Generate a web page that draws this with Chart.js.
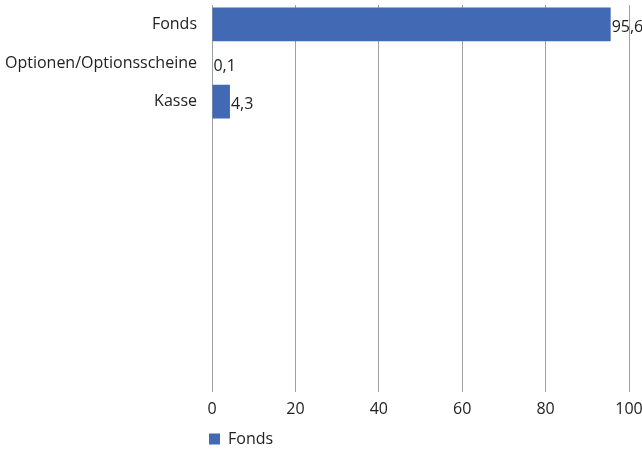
<!DOCTYPE html>
<html>
<head>
<meta charset="utf-8">
<script src="https://cdn.jsdelivr.net/npm/chart.js@4/dist/chart.umd.min.js"></script>
<style>
  html, body { margin: 0; padding: 0; background: #fff; }
  #wrap { width: 642px; height: 457px; position: relative; }
</style>
</head>
<body>
<div id="wrap"><canvas id="chart"></canvas></div>
<script>
// categories (the chart keeps 10 slots, only the first three are filled)
const categories = ["Fonds", "Optionen/Optionsscheine", "Kasse", "", "", "", "", "", "", ""];
const fondsValues = [95.6, 0.1, 4.3, null, null, null, null, null, null, null];
const xTicks = [0, 20, 40, 60, 80, 100];
const seriesName = "Fonds";

const FONT = "'Open Sans', sans-serif";
const TEXT = "#222222";

// draws the value next to the end of each bar, German decimal comma
const valueLabels = {
  id: "valueLabels",
  afterDatasetsDraw(chart) {
    const ctx = chart.ctx;
    const meta = chart.getDatasetMeta(0);
    ctx.save();
    ctx.font = "16px " + FONT;
    ctx.fillStyle = TEXT;
    ctx.textAlign = "left";
    ctx.textBaseline = "middle";
    meta.data.forEach((bar, i) => {
      const v = fondsValues[i];
      if (v === null) return;
      ctx.fillText(v.toFixed(1).replace(".", ","), bar.x + 1, bar.y + 3);
    });
    ctx.restore();
  },
};

// move the legend so it starts under the plot area instead of the canvas edge
const legendShift = {
  id: "legendShift",
  beforeDraw(chart) {
    const lg = chart.legend;
    if (!lg) return;
    const w = lg.right - lg.left;
    lg.left = chart.chartArea.left - 7;
    lg.right = lg.left + w;
  },
};

new Chart(document.getElementById("chart").getContext("2d"), {
  type: "bar",
  data: {
    labels: categories,
    datasets: [
      {
        label: seriesName,
        data: fondsValues,
        backgroundColor: "#4169b4",
        barPercentage: 0.87,
        categoryPercentage: 1,
      },
    ],
  },
  options: {
    indexAxis: "y",
    responsive: true,
    maintainAspectRatio: false,
    animation: false,
    layout: { padding: { top: 5, right: 13, left: 0, bottom: 0 } },
    plugins: {
      tooltip: { enabled: false },
      legend: {
        position: "bottom",
        align: "start",
        labels: {
          font: { family: FONT, size: 16 },
          color: TEXT,
          boxWidth: 11,
          boxHeight: 11,
          padding: 4,
        },
      },
    },
    scales: {
      x: {
        min: 0,
        max: 100,
        afterBuildTicks(scale) {
          scale.ticks = xTicks.map((v) => ({ value: v }));
        },
        afterFit(scale) {
          scale.paddingLeft = 0;
          scale.paddingRight = 0;
        },
        grid: { color: "#a0a0a0", drawTicks: false, lineWidth: 1 },
        border: { display: false },
        ticks: { font: { family: FONT, size: 16 }, color: TEXT, padding: 8 },
      },
      y: {
        grid: { display: false, drawTicks: false },
        border: { display: false },
        afterFit(scale) {
          scale.width = 212;
          scale.paddingTop = 0;
          scale.paddingBottom = 0;
        },
        ticks: { font: { family: FONT, size: 16 }, color: TEXT, padding: 15, autoSkip: false },
      },
    },
  },
  plugins: [valueLabels, legendShift],
});
</script>
</body>
</html>
